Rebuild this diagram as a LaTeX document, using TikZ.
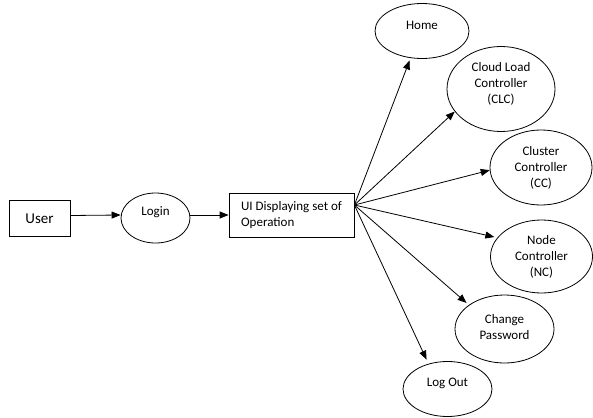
\documentclass[tikz,border=0pt]{standalone}
\usepackage{fontspec}
\setmainfont{Carlito}
\usetikzlibrary{shapes.geometric,arrows.meta}

\tikzset{
  box/.style={draw,rectangle,line width=0.8pt},
  oval/.style={draw,ellipse,line width=0.8pt,align=center,inner sep=0pt},
  lift/.style 2 args={text height=#1,text depth=#2},
  link/.style={line width=0.8pt,-{Triangle[length=9pt,width=7pt]}}
}

\begin{document}
\begin{tikzpicture}[x=1pt,y=-1pt,font=\fontsize{13}{16}\selectfont]
\useasboundingbox (0,0) rectangle (593,417);

% left part
\node [box,minimum width=61pt,minimum height=36pt,font=\fontsize{15}{18}\selectfont] (user) at (39.5,218.5) {User};
\node [oval,minimum width=69pt,minimum height=50pt,lift={9pt}{14.6pt}] (login) at (155.5,218) {Login};
\node [box,minimum width=125pt,minimum height=44pt,align=left] (ui) at (291.5,215) {UI Displaying set of\\Operation};

% right part
\node [oval,minimum width=94pt,minimum height=55pt,lift={9pt}{12.6pt}] (home) at (422,31) {Home};
\node [oval,minimum width=108pt,minimum height=85pt,lift={41pt}{12.6pt}] (clc) at (501,89) {Cloud Load\\Controller\\(CLC)};
\node [oval,minimum width=102pt,minimum height=75pt,lift={41pt}{1.6pt}] (cc) at (541,167.5) {Cluster\\Controller\\(CC)};
\node [oval,minimum width=102pt,minimum height=73pt,lift={41pt}{0.6pt}] (nc) at (541.5,256.5) {Node\\Controller\\(NC)};
\node [oval,minimum width=99pt,minimum height=68pt,lift={25pt}{5pt}] (chpw) at (504.5,329) {Change\\Password};
\node [oval,minimum width=89pt,minimum height=55pt,lift={9pt}{14.6pt}] (logout) at (447.5,389) {Log Out};

\draw [link] ([yshift=3pt]user.east) -- ([yshift=3pt]login.west);
\draw [link] ([yshift=3pt]login.east) -- (ui.west);

\coordinate (fan) at ([yshift=10pt]ui.east);
\draw [link,shorten >=2.5pt] (fan) -- (home.247);
\draw [link] (fan) -- (clc.206);
\draw [link] (fan) -- (cc.183);
\draw [link,shorten >=3pt] (fan) -- (nc.157);
\draw [link,shorten >=3pt] (fan) -- (chpw.146);
\draw [link,shorten >=4.5pt] (fan) -- (logout.127);

\end{tikzpicture}
\end{document}
